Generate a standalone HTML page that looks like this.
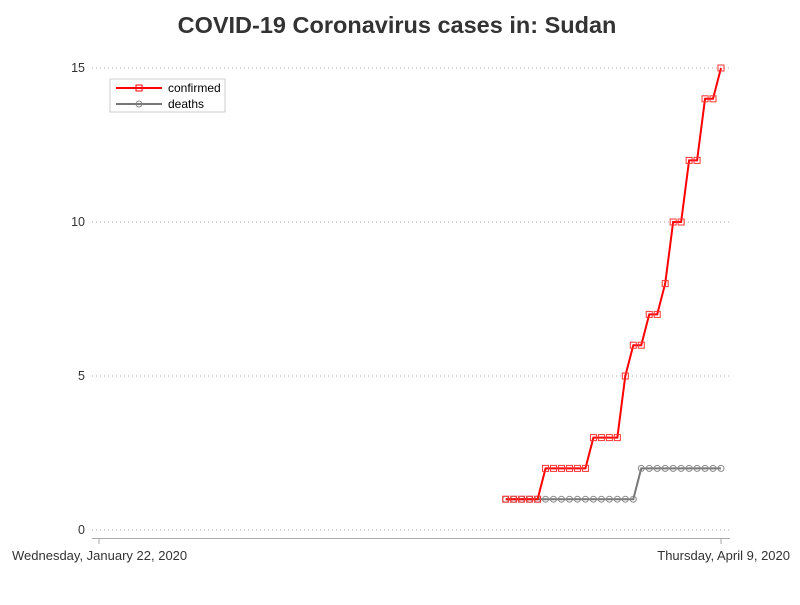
<!DOCTYPE html>
<html><head><meta charset="utf-8"><style>
body{margin:0;background:#fff;font-family:"Liberation Sans",sans-serif}
svg text{font-family:"Liberation Sans",sans-serif}
</style></head><body>
<svg width="800" height="600">
<text x="397" y="33" text-anchor="middle" font-size="23.5" font-weight="bold" fill="#333">COVID-19 Coronavirus cases in: Sudan</text>
<g id="grid"></g><g id="axes"></g><g id="series"></g>
<g>
<rect x="110" y="79" width="115" height="33" fill="#fff" stroke="#ccc"/>
<line x1="116" y1="88" x2="162" y2="88" stroke="red" stroke-width="2"/>
<rect x="136" y="85" width="6" height="6" fill="none" stroke="red"/>
<text x="168" y="92" font-size="12" fill="#000">confirmed</text>
<line x1="116" y1="104" x2="162" y2="104" stroke="#777" stroke-width="2"/>
<circle cx="139" cy="104" r="3" fill="none" stroke="#888"/>
<text x="168" y="108" font-size="12" fill="#000">deaths</text>
</g>
</svg>
<script>
const yTicks=[0,5,10,15];
const confirmed=[1,1,1,1,1,2,2,2,2,2,2,3,3,3,3,5,6,6,7,7,8,10,10,12,12,14,14,15];
const deaths=[1,1,1,1,1,1,1,1,1,1,1,1,1,1,1,1,1,2,2,2,2,2,2,2,2,2,2,2];
const startDay=51, totalDays=78;
const xLabels=["Wednesday, January 22, 2020","Thursday, April 9, 2020"];
const NS="http://www.w3.org/2000/svg";
const X=d=>99+d*(721-99)/totalDays, Y=v=>530-v*(530-68)/15;
function mk(p,t,a){const e=document.createElementNS(NS,t);for(const k in a)e.setAttribute(k,a[k]);document.getElementById(p).appendChild(e);return e;}
yTicks.forEach(v=>{
 const g=mk('grid','line',{x1:92,x2:730,y1:Y(v),y2:Y(v),stroke:'#aaa','stroke-dasharray':'1,3'});
 
 
 const t=mk('axes','text',{x:85,y:Y(v)+4,'text-anchor':'end','font-size':12.5,fill:'#333'});t.textContent=v;
 
 
});
mk('axes','line',{x1:92,x2:730,y1:538.5,y2:538.5,stroke:'#aaa'});
[0,totalDays].forEach((d,i)=>{
 mk('axes','line',{x1:X(d),x2:X(d),y1:538,y2:544,stroke:'#aaa'});
 const t=mk('axes','text',{x:i?790:12,y:560,'text-anchor':i?'end':'start','font-size':13,fill:'#333'});t.textContent=xLabels[i];
 
 
});
function line(data,col,name,sq){
 const pts=data.map((v,i)=>X(startDay+i)+','+Y(v)).join(' ');
 const l=mk('series','polyline',{points:pts,fill:'none',stroke:col,'stroke-width':2});
 
 
 data.forEach((v,i)=>{
  const x=X(startDay+i),y=Y(v);
  const m=sq?mk('series','rect',{x:x-3,y:y-3,width:6,height:6,fill:'none',stroke:'#f33'}):mk('series','circle',{cx:x,cy:y,r:3,fill:'none',stroke:'#888'});
  
  
 });
}
line(deaths,'#777','deaths',false);
line(confirmed,'red','confirmed',true);
</script>
</body></html>
